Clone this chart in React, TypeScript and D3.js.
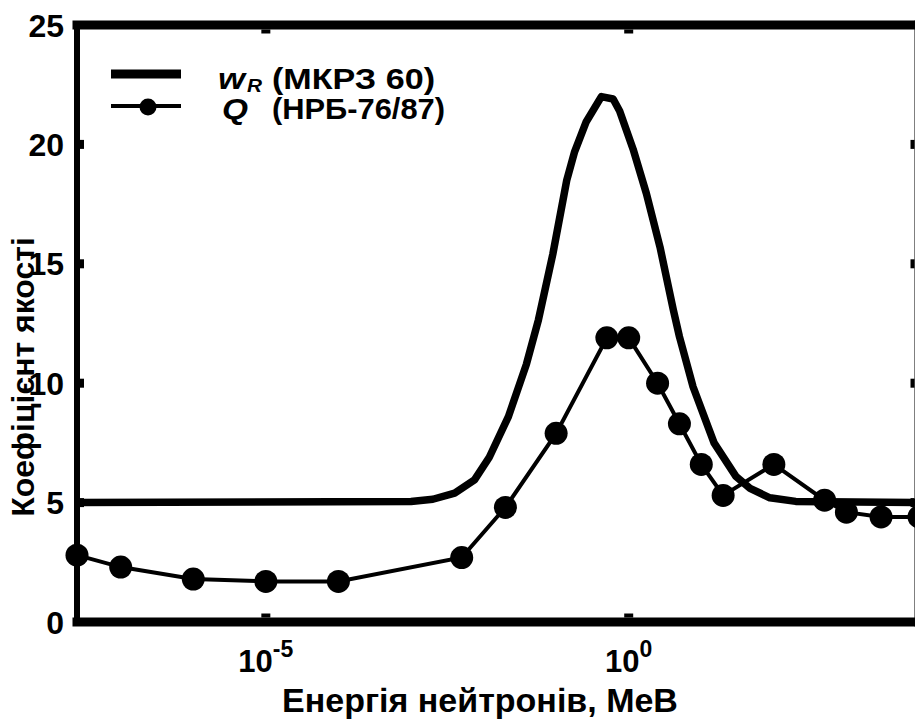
import React, { useEffect, useRef } from 'react';
import * as d3 from 'd3';

// w_R (ICRP 60) curve
const wrEnergy = [2.5e-8, 1e-3, 2e-3, 4e-3, 7.5e-3, 0.012, 0.022, 0.039, 0.057, 0.09, 0.14, 0.18, 0.26, 0.42, 0.61, 0.75, 1.15, 1.75, 2.7, 4.1, 5, 7.7, 15, 30, 47, 88, 200, 1e4];
const wrValue = [5, 5.05, 5.14, 5.4, 5.95, 6.9, 8.6, 10.8, 12.65, 15.4, 18.5, 19.7, 20.95, 22.0, 21.9, 21.4, 19.8, 17.95, 15.7, 13.1, 11.95, 9.85, 7.5, 6.1, 5.6, 5.2, 5.05, 5];

// Q (НРБ-76/87) points
const qEnergy = [2.5e-8, 1e-7, 1e-6, 1e-5, 1e-4, 5e-3, 0.02, 0.1, 0.5, 1, 2.5, 5, 10, 20, 100, 500, 1000, 3000, 1e4];
const qValue = [2.8, 2.3, 1.8, 1.7, 1.7, 2.7, 4.8, 7.9, 11.9, 11.9, 10, 8.3, 6.6, 5.3, 6.6, 5.1, 4.6, 4.4, 4.4];

const yTicks = [0, 5, 10, 15, 20, 25];
const xTicks = [1e-5, 1];
const xTickExp = ['-5', '0'];

const FONT = '"Liberation Sans", Arial, sans-serif';

const App = () => {
  const svgRef = useRef<SVGSVGElement>(null);

  useEffect(() => {
    const svg = d3.select(svgRef.current);
    svg.selectAll('*').remove();

    const left = 77, right = 919, top = 25, bottom = 622;

    const x = d3.scaleLog().domain([2.5e-8, 1e4]).range([left, right]);
    const y = d3.scaleLinear().domain([0, 25]).range([bottom, top]);

    // frame
    const frame = svg.append('g').attr('stroke', '#000').attr('stroke-linecap', 'square');
    frame.append('line').attr('x1', left).attr('x2', left).attr('y1', top).attr('y2', bottom).attr('stroke-width', 6);
    frame.append('line').attr('x1', left).attr('x2', right).attr('y1', top).attr('y2', top).attr('stroke-width', 9);
    frame.append('line').attr('x1', left).attr('x2', right).attr('y1', bottom).attr('y2', bottom).attr('stroke-width', 9);
    frame.append('line').attr('x1', right).attr('x2', right).attr('y1', top).attr('y2', bottom).attr('stroke-width', 9);

    // tiny inward ticks
    const ticks = svg.append('g').attr('stroke', '#000').attr('stroke-width', 9);
    yTicks.slice(1, -1).forEach((t) => {
      ticks.append('line').attr('x1', left + 3).attr('x2', left + 7).attr('y1', y(t)).attr('y2', y(t));
      ticks.append('line').attr('x1', right - 4.5).attr('x2', right - 8.5).attr('y1', y(t)).attr('y2', y(t));
    });
    xTicks.forEach((t) => {
      ticks.append('line').attr('x1', x(t)).attr('x2', x(t)).attr('y1', top + 4.5).attr('y2', top + 8.5);
      ticks.append('line').attr('x1', x(t)).attr('x2', x(t)).attr('y1', bottom - 4.5).attr('y2', bottom - 8.5);
    });

    // y tick labels
    svg.append('g')
      .selectAll('text')
      .data(yTicks)
      .enter()
      .append('text')
      .attr('x', 64)
      .attr('y', (d) => y(d))
      .attr('dy', '0.36em')
      .attr('text-anchor', 'end')
      .attr('font-family', FONT)
      .attr('font-weight', 'bold')
      .attr('font-size', 32)
      .text((d) => d);

    // x tick labels 10^n
    xTicks.forEach((t, i) => {
      const tx = svg.append('text')
        .attr('x', x(t))
        .attr('y', 672)
        .attr('text-anchor', 'middle')
        .attr('font-family', FONT)
        .attr('font-weight', 'bold')
        .attr('font-size', 31);
      tx.append('tspan').text('10');
      tx.append('tspan').attr('dy', -15).attr('font-size', 23).text(xTickExp[i]);
    });

    // axis titles
    svg.append('text')
      .attr('x', 480)
      .attr('y', 712)
      .attr('text-anchor', 'middle')
      .attr('font-family', FONT)
      .attr('font-weight', 'bold')
      .attr('font-size', 34)
      .text('Енергія нейтронів, МеВ');

    svg.append('text')
      .attr('transform', 'translate(34,377) rotate(-90)')
      .attr('text-anchor', 'middle')
      .attr('font-family', FONT)
      .attr('font-weight', 'bold')
      .attr('font-size', 32)
      .text('Коефіцієнт якості');

    // w_R curve
    const wrData = wrEnergy.map((e, i) => [e, wrValue[i]] as [number, number]);
    const line = d3.line<[number, number]>().x((d) => x(d[0])).y((d) => y(d[1]));
    svg.append('path')
      .datum(wrData)
      .attr('d', line)
      .attr('fill', 'none')
      .attr('stroke', '#000')
      .attr('stroke-width', 7.5)
      .attr('stroke-linejoin', 'round');

    // Q curve
    const qData = qEnergy.map((e, i) => [e, qValue[i]] as [number, number]);
    svg.append('path')
      .datum(qData)
      .attr('d', line)
      .attr('fill', 'none')
      .attr('stroke', '#000')
      .attr('stroke-width', 4);
    svg.append('g')
      .selectAll('circle')
      .data(qData)
      .enter()
      .append('circle')
      .attr('cx', (d) => x(d[0]))
      .attr('cy', (d) => y(d[1]))
      .attr('r', 11.5)
      .attr('fill', '#000');

    // legend (the source font is drawn a bit wider, so widths are fixed)
    const lg = svg.append('g')
      .attr('font-family', FONT)
      .attr('font-weight', 'bold')
      .attr('font-size', 30);
    lg.append('line').attr('x1', 111).attr('x2', 181).attr('y1', 74).attr('y2', 74).attr('stroke', '#000').attr('stroke-width', 9);
    lg.append('line').attr('x1', 111).attr('x2', 181).attr('y1', 106).attr('y2', 106).attr('stroke', '#000').attr('stroke-width', 4);
    lg.append('circle').attr('cx', 148).attr('cy', 107).attr('r', 8.5).attr('fill', '#000');

    lg.append('text').attr('x', 218).attr('y', 89).attr('font-style', 'italic')
      .attr('textLength', 27).attr('lengthAdjust', 'spacingAndGlyphs').text('w');
    lg.append('text').attr('x', 247).attr('y', 92).attr('font-style', 'italic').attr('font-size', 18)
      .attr('textLength', 15).attr('lengthAdjust', 'spacingAndGlyphs').text('R');
    lg.append('text').attr('x', 272).attr('y', 89)
      .attr('textLength', 163).attr('lengthAdjust', 'spacingAndGlyphs').text('(МКРЗ 60)');

    lg.append('text').attr('x', 222).attr('y', 119).attr('font-style', 'italic')
      .attr('textLength', 26).attr('lengthAdjust', 'spacingAndGlyphs').text('Q');
    lg.append('text').attr('x', 272).attr('y', 119)
      .attr('textLength', 173).attr('lengthAdjust', 'spacingAndGlyphs').text('(НРБ-76/87)');
  }, []);

  return (
    <svg
      ref={svgRef}
      width={915}
      height={719}
      style={{ position: 'absolute', left: 0, top: 0, background: '#fff' }}
    />
  );
};

export default App;
